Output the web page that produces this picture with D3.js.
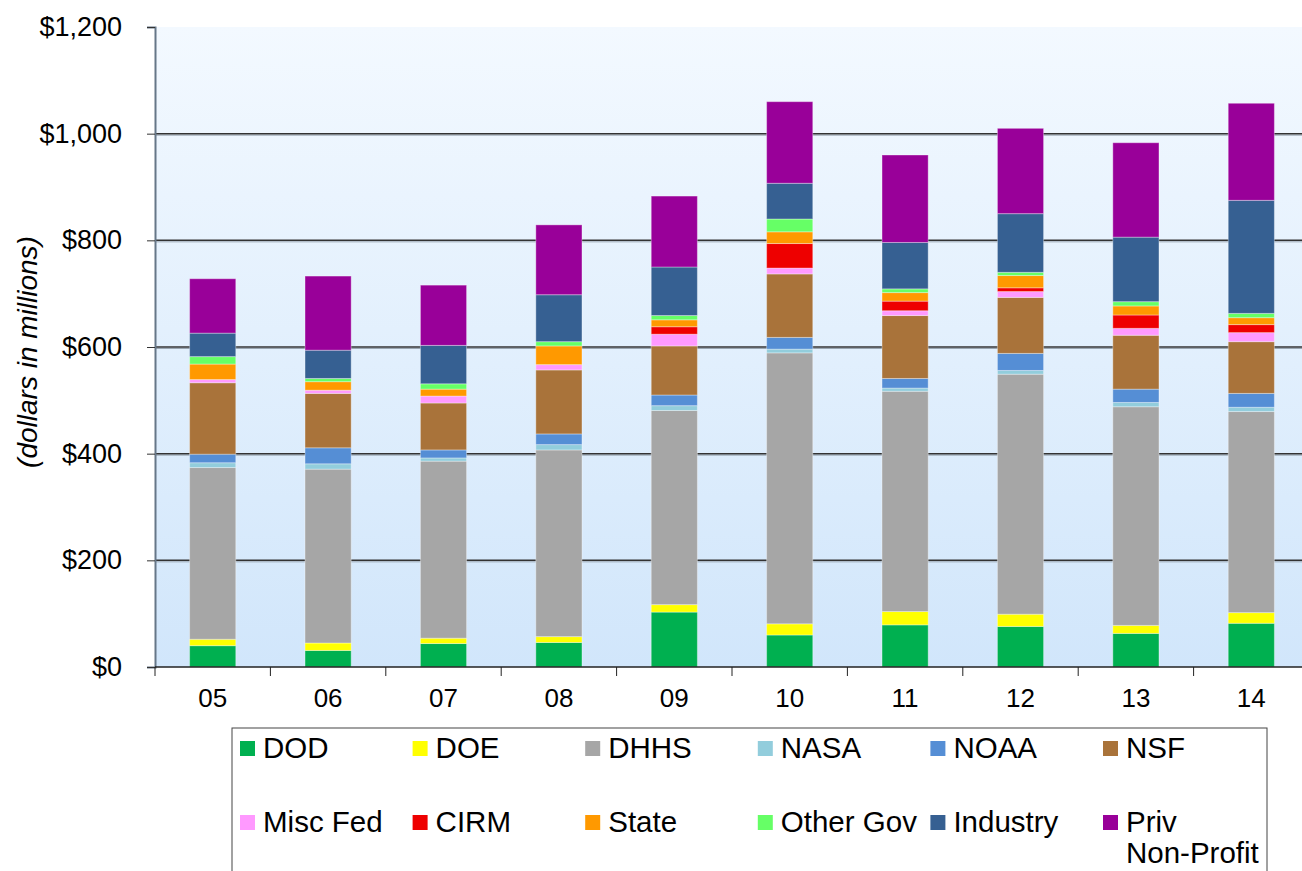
<!doctype html>
<html>
<head>
<meta charset="UTF-8">
<title>Funding by source</title>
<script src="https://d3js.org/d3.v7.min.js"></script>
<style>
  body { margin: 0; background: #fff; }
  text { font-family: Arial, "Liberation Sans", sans-serif; fill: #000; }
</style>
</head>
<body>
<script>
// fiscal years
var years = ["05", "06", "07", "08", "09", "10", "11", "12", "13", "14"];

// funding by source, $ millions
var dod      = [40, 31, 44, 46, 103, 60, 79, 76, 63, 82];
var doe      = [12, 14, 10, 11, 14, 21, 25, 23, 15, 20];
var dhhs     = [322, 326, 332, 350, 364, 508, 413, 450, 410, 377];
var nasa     = [9, 10, 6, 10, 9, 7, 6, 7, 8, 8];
var noaa     = [16, 30, 15, 20, 20, 22, 18, 32, 25, 26];
var nsf      = [134, 102, 88, 120, 92, 119, 118, 105, 101, 97];
var miscFed  = [6, 6, 13, 10, 22, 11, 9, 11, 13, 17];
var cirm     = [0, 0, 0, 0, 14, 46, 18, 7, 25, 15];
var state    = [29, 16, 13, 35, 13, 22, 16, 23, 17, 13];
var otherGov = [14, 6, 10, 8, 8, 24, 7, 6, 8, 8];
var industry = [44, 53, 72, 88, 91, 67, 87, 110, 121, 212];
var privNP   = [102, 139, 113, 131, 133, 153, 164, 160, 177, 182];

var seriesNames = ["DOD", "DOE", "DHHS", "NASA", "NOAA", "NSF", "Misc Fed", "CIRM", "State", "Other Gov", "Industry", "Priv Non-Profit"];
var seriesValues = [dod, doe, dhhs, nasa, noaa, nsf, miscFed, cirm, state, otherGov, industry, privNP];
var colors = ["#00b050", "#ffff00", "#a6a6a6", "#92cddc", "#558ed5", "#a9733a",
              "#ff99ff", "#ee0000", "#ff9900", "#66ff66", "#366092", "#990099"];

var yTicks = [0, 200, 400, 600, 800, 1000, 1200];

// build rows for d3.stack
var rows = years.map(function(y, i) {
  var r = { year: y };
  seriesNames.forEach(function(n, j) { r[n] = seriesValues[j][i]; });
  return r;
});

var W = 1302, H = 871;
var plotL = 155, plotR = 1309, plotT = 27, plotB = 667;

var svg = d3.select("body").append("svg")
  .attr("width", W)
  .attr("height", H);

// plot background gradient
var grad = svg.append("defs").append("linearGradient")
  .attr("id", "bg")
  .attr("x1", 0).attr("y1", 0).attr("x2", 0).attr("y2", 1);
grad.append("stop").attr("offset", "0%").attr("stop-color", "#f3f9ff");
grad.append("stop").attr("offset", "100%").attr("stop-color", "#d1e6fb");

var x = d3.scaleBand()
  .domain(years)
  .range([plotL, plotR])
  .paddingInner(0.6)
  .paddingOuter(0.3);

var y = d3.scaleLinear()
  .domain([0, 1200])
  .range([plotB, plotT]);

svg.append("rect")
  .attr("x", plotL)
  .attr("y", plotT)
  .attr("width", plotR - plotL)
  .attr("height", plotB - plotT)
  .attr("fill", "url(#bg)");

// gridlines (dark line with a faint light line under it)
var inner = yTicks.filter(function(d) { return d > 0 && d < 1200; });
var grid = svg.append("g");
grid.selectAll("line.sh")
  .data(inner)
  .enter().append("line")
  .attr("x1", plotL).attr("x2", plotR)
  .attr("y1", function(d) { return y(d) + 1.5; })
  .attr("y2", function(d) { return y(d) + 1.5; })
  .attr("stroke", "#9aa6b2")
  .attr("stroke-width", 1);
grid.selectAll("line.g")
  .data(inner)
  .enter().append("line")
  .attr("x1", plotL).attr("x2", plotR)
  .attr("y1", function(d) { return y(d); })
  .attr("y2", function(d) { return y(d); })
  .attr("stroke", "#333")
  .attr("stroke-width", 1.5);

// stacked bars
var stack = d3.stack().keys(seriesNames);
var layers = stack(rows);

svg.append("g").selectAll("g")
  .data(layers)
  .enter().append("g")
  .attr("fill", function(d, i) { return colors[i]; })
  .selectAll("rect")
  .data(function(d) { return d; })
  .enter().append("rect")
  .attr("x", function(d) { return x(d.data.year); })
  .attr("y", function(d) { return y(d[1]); })
  .attr("width", x.bandwidth())
  .attr("height", function(d) { return y(d[0]) - y(d[1]); })
  .attr("stroke", "rgba(255,255,255,0.35)")
  .attr("stroke-width", 1);

// y axis
var yAxis = d3.axisLeft(y)
  .tickValues(yTicks)
  .tickSize(8)
  .tickPadding(25)
  .tickFormat(function(d) { return "$" + d3.format(",")(d); });

var ya = svg.append("g")
  .attr("transform", "translate(" + plotL + ",0)")
  .call(yAxis);
ya.select(".domain").attr("stroke", "#667788").attr("stroke-width", 2);
ya.selectAll(".tick line").attr("stroke", "#333");
ya.selectAll("text")
  .attr("font-size", 27)
  .attr("font-family", "Arial, 'Liberation Sans', sans-serif")
  .attr("fill", "#000");

// x axis: ticks at category boundaries, labels at centres
var xa = svg.append("g");
xa.append("line")
  .attr("x1", plotL).attr("x2", plotR)
  .attr("y1", plotB).attr("y2", plotB)
  .attr("stroke", "#222")
  .attr("stroke-width", 1.5);
xa.selectAll("line.t")
  .data(d3.range(years.length + 1))
  .enter().append("line")
  .attr("x1", function(i) { return plotL + i * x.step(); })
  .attr("x2", function(i) { return plotL + i * x.step(); })
  .attr("y1", plotB)
  .attr("y2", plotB + 9)
  .attr("stroke", "#222");
xa.selectAll("text")
  .data(years)
  .enter().append("text")
  .attr("x", function(d) { return x(d) + x.bandwidth() / 2; })
  .attr("y", 707)
  .attr("text-anchor", "middle")
  .attr("font-size", 26)
  .text(function(d) { return d; });

// axis title
svg.append("text")
  .attr("transform", "translate(37,352) rotate(-90)")
  .attr("text-anchor", "middle")
  .attr("font-size", 28)
  .attr("font-style", "italic")
  .text("(dollars in millions)");

// legend
var lg = svg.append("g");
lg.append("rect")
  .attr("x", 232)
  .attr("y", 728)
  .attr("width", 1035)
  .attr("height", 160)
  .attr("fill", "#fff")
  .attr("stroke", "#444")
  .attr("stroke-width", 1);

var item = lg.selectAll("g.item")
  .data(seriesNames)
  .enter().append("g")
  .attr("transform", function(d, i) {
    return "translate(" + (240 + (i % 6) * 172.6) + "," + (i < 6 ? 748 : 822) + ")";
  });
item.append("rect")
  .attr("x", 0)
  .attr("y", -7)
  .attr("width", 15)
  .attr("height", 15)
  .attr("fill", function(d, i) { return colors[i]; });
item.append("text")
  .attr("x", 23)
  .attr("y", 10)
  .attr("font-size", 29.5)
  .each(function(d) {
    var parts = d === "Priv Non-Profit" ? ["Priv", "Non-Profit"] : [d];
    var t = d3.select(this);
    parts.forEach(function(p, k) {
      t.append("tspan").attr("x", 23).attr("dy", k === 0 ? 0 : 31).text(p);
    });
  });
</script>
</body>
</html>
